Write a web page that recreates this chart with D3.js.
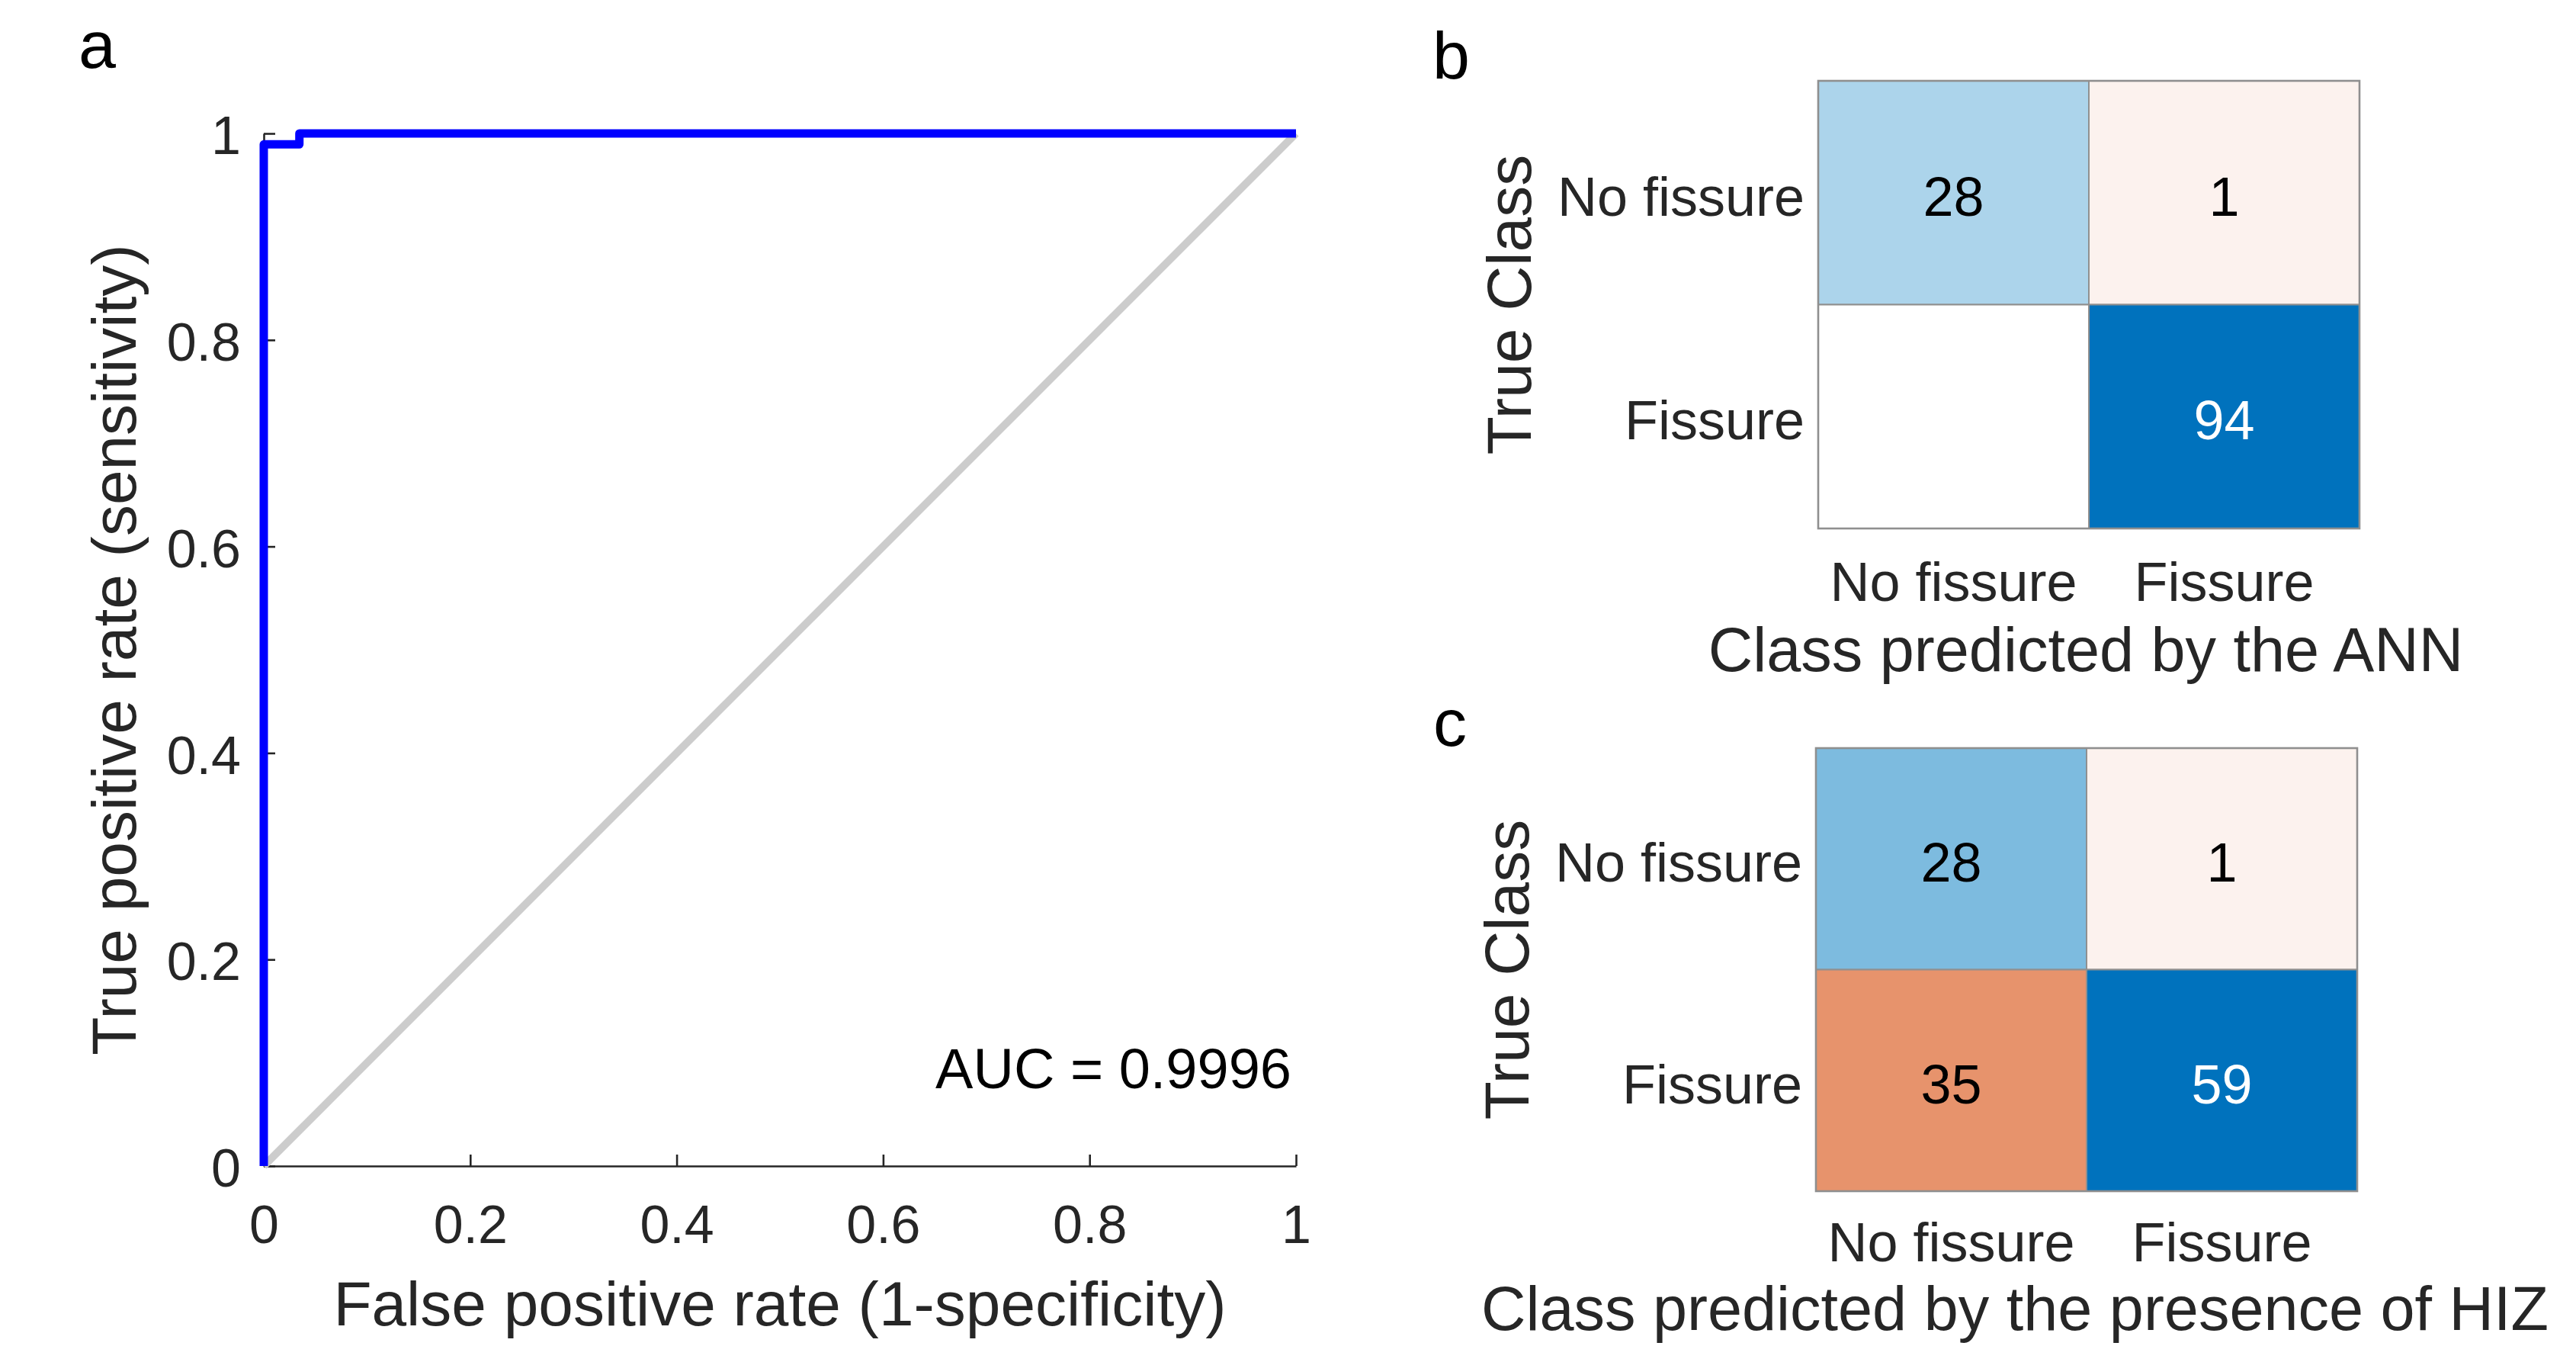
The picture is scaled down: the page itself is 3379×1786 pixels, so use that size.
<!DOCTYPE html>
<html>
<head>
<meta charset="utf-8">
<script src="https://cdn.jsdelivr.net/npm/d3@7"></script>
<style>
  html, body { margin: 0; padding: 0; background: #ffffff; }
  svg { display: block; font-family: "Liberation Sans", Arial, Helvetica, sans-serif; }
</style>
</head>
<body>
<svg id="chart" width="3379" height="1786"></svg>
<script>
// ---------- Data ----------
// Panel a: ROC curve
const rocFPR = [0, 0, 0.0345, 0.0345, 1];
const rocTPR = [0, 0.9894, 0.9894, 1, 1];
const chanceFPR = [0, 1];
const chanceTPR = [0, 1];
const xTickValues = [0, 0.2, 0.4, 0.6, 0.8, 1];
const xTickLabels = ["0", "0.2", "0.4", "0.6", "0.8", "1"];
const yTickValues = [0, 0.2, 0.4, 0.6, 0.8, 1];
const yTickLabels = ["0", "0.2", "0.4", "0.6", "0.8", "1"];
const aucLabel = "AUC = 0.9996";
const xTitleA = "False positive rate (1-specificity)";
const yTitleA = "True positive rate (sensitivity)";

// Panels b, c: confusion matrices (rows = true class, cols = predicted class)
const classes = ["No fissure", "Fissure"];
const cmANN = [[28, 1], [0, 94]];
const cmHIZ = [[28, 1], [35, 59]];
const trueTitle = "True Class";
const xTitleB = "Class predicted by the ANN";
const xTitleC = "Class predicted by the presence of HIZ";
const panelLetters = ["a", "b", "c"];

// ---------- Drawing ----------
const svg = d3.select("#chart");
svg.append("rect").attr("width", 3379).attr("height", 1786).attr("fill", "#ffffff");

const TXT = "#262626";
const FONT = "'Liberation Sans', Arial, sans-serif";

// ===== Panel a =====
const x = d3.scaleLinear().domain([0, 1]).range([346, 1700]);
const y = d3.scaleLinear().domain([0, 1]).range([1529, 175]);

const gA = svg.append("g");

const xAxis = d3.axisBottom(x).tickValues(xTickValues)
  .tickFormat((d, i) => xTickLabels[i]).tickSize(-15).tickSizeOuter(0).tickPadding(51);
const yAxis = d3.axisLeft(y).tickValues(yTickValues)
  .tickFormat((d, i) => yTickLabels[i]).tickSize(-15).tickSizeOuter(0).tickPadding(30);

const gx = gA.append("g").attr("transform", `translate(0,${y(0)})`).call(xAxis);
const gy = gA.append("g").attr("transform", `translate(${x(0)},0)`).call(yAxis);
[gx, gy].forEach(g => {
  g.attr("font-family", FONT);
  g.select(".domain").attr("stroke", TXT).attr("stroke-width", 2.6);
  g.selectAll(".tick line").attr("stroke", TXT).attr("stroke-width", 2.6);
  g.selectAll(".tick text").attr("fill", TXT).attr("font-size", 70);
});
gy.selectAll(".tick text").attr("dy", "0.38em");

const line = d3.line().x(d => x(d[0])).y(d => y(d[1]));

gA.append("path")
  .datum(chanceFPR.map((v, i) => [v, chanceTPR[i]]))
  .attr("d", line).attr("fill", "none")
  .attr("stroke", "#cccccc").attr("stroke-width", 10);

gA.append("path")
  .datum(rocFPR.map((v, i) => [v, rocTPR[i]]))
  .attr("d", line).attr("fill", "none")
  .attr("stroke", "#0000ff").attr("stroke-width", 11)
  .attr("stroke-linejoin", "round").attr("stroke-linecap", "butt");

gA.append("text").attr("x", x(1) - 6).attr("y", 1427)
  .attr("text-anchor", "end").attr("font-size", 74).attr("fill", "#000000")
  .text(aucLabel);

gA.append("text").attr("x", (x(0) + x(1)) / 2).attr("y", 1738)
  .attr("text-anchor", "middle").attr("font-size", 82).attr("fill", TXT)
  .text(xTitleA);

gA.append("text")
  .attr("transform", `translate(178,${(y(0) + y(1)) / 2}) rotate(-90)`)
  .attr("text-anchor", "middle").attr("font-size", 82).attr("fill", TXT)
  .text(yTitleA);

// panel letters
const letterPos = [[103, 89], [1879, 103], [1880, 978]];
svg.selectAll("text.panel").data(panelLetters).join("text")
  .attr("class", "panel")
  .attr("x", (d, i) => letterPos[i][0]).attr("y", (d, i) => letterPos[i][1])
  .attr("font-size", 88).attr("fill", "#000000")
  .text(d => d);

// ===== Confusion matrices =====
function drawMatrix(cm, box, xLabY, xTitle, xTitlePos) {
  const g = svg.append("g");
  const xb = d3.scaleBand().domain(classes).range([box.x0, box.x1]);
  const yb = d3.scaleBand().domain(classes).range([box.y0, box.y1]);
  const maxV = d3.max(cm.flat());
  const interp = d3.interpolateRgb.gamma(0.9);
  const diagColor = d3.scaleLinear().domain([0, maxV])
    .range(["#ffffff", "#0072bd"]).interpolate(interp);
  const offColor = d3.scaleLinear().domain([0, 1, maxV])
    .range(["#ffffff", "#fcf2ee", "#d95319"]).interpolate(interp).clamp(true);

  const cells = [];
  cm.forEach((row, i) => row.forEach((v, j) => cells.push({
    t: classes[i], p: classes[j], v,
    color: i === j ? diagColor(v) : offColor(v)
  })));

  g.selectAll("rect.cell").data(cells).join("rect")
    .attr("class", "cell")
    .attr("x", d => xb(d.p)).attr("y", d => yb(d.t))
    .attr("width", xb.bandwidth()).attr("height", yb.bandwidth())
    .attr("fill", d => d.color)
    .attr("stroke", "#909090").attr("stroke-width", 2);

  g.append("rect")
    .attr("x", box.x0).attr("y", box.y0)
    .attr("width", box.x1 - box.x0).attr("height", box.y1 - box.y0)
    .attr("fill", "none").attr("stroke", "#8f8f8f").attr("stroke-width", 2.6);

  g.selectAll("text.val").data(cells.filter(d => d.v !== 0)).join("text")
    .attr("class", "val")
    .attr("x", d => xb(d.p) + xb.bandwidth() / 2)
    .attr("y", d => yb(d.t) + yb.bandwidth() / 2 + 30)
    .attr("text-anchor", "middle").attr("font-size", 72)
    .attr("fill", d => d3.hsl(d.color).l < 0.5 ? "#ffffff" : "#000000")
    .text(d => d.v);

  g.selectAll("text.ylab").data(classes).join("text")
    .attr("class", "ylab")
    .attr("x", box.x0 - 18).attr("y", d => yb(d) + yb.bandwidth() / 2 + 30)
    .attr("text-anchor", "end").attr("font-size", 72).attr("fill", TXT)
    .text(d => d);

  g.selectAll("text.xlab").data(classes).join("text")
    .attr("class", "xlab")
    .attr("x", d => xb(d) + xb.bandwidth() / 2).attr("y", xLabY)
    .attr("text-anchor", "middle").attr("font-size", 72).attr("fill", TXT)
    .text(d => d);

  g.append("text")
    .attr("transform", `translate(${box.x0 - 377},${(box.y0 + box.y1) / 2}) rotate(-90)`)
    .attr("text-anchor", "middle").attr("font-size", 82).attr("fill", TXT)
    .text(trueTitle);

  g.append("text").attr("x", xTitlePos[0]).attr("y", xTitlePos[1])
    .attr("text-anchor", "middle").attr("font-size", 81).attr("fill", TXT)
    .text(xTitle);
}

drawMatrix(cmANN, { x0: 2385, x1: 3095, y0: 106, y1: 693 }, 788, xTitleB, [2736, 880]);
drawMatrix(cmHIZ, { x0: 2382, x1: 3092, y0: 981, y1: 1562 }, 1654, xTitleC, [2643, 1744]);
</script>
</body>
</html>
